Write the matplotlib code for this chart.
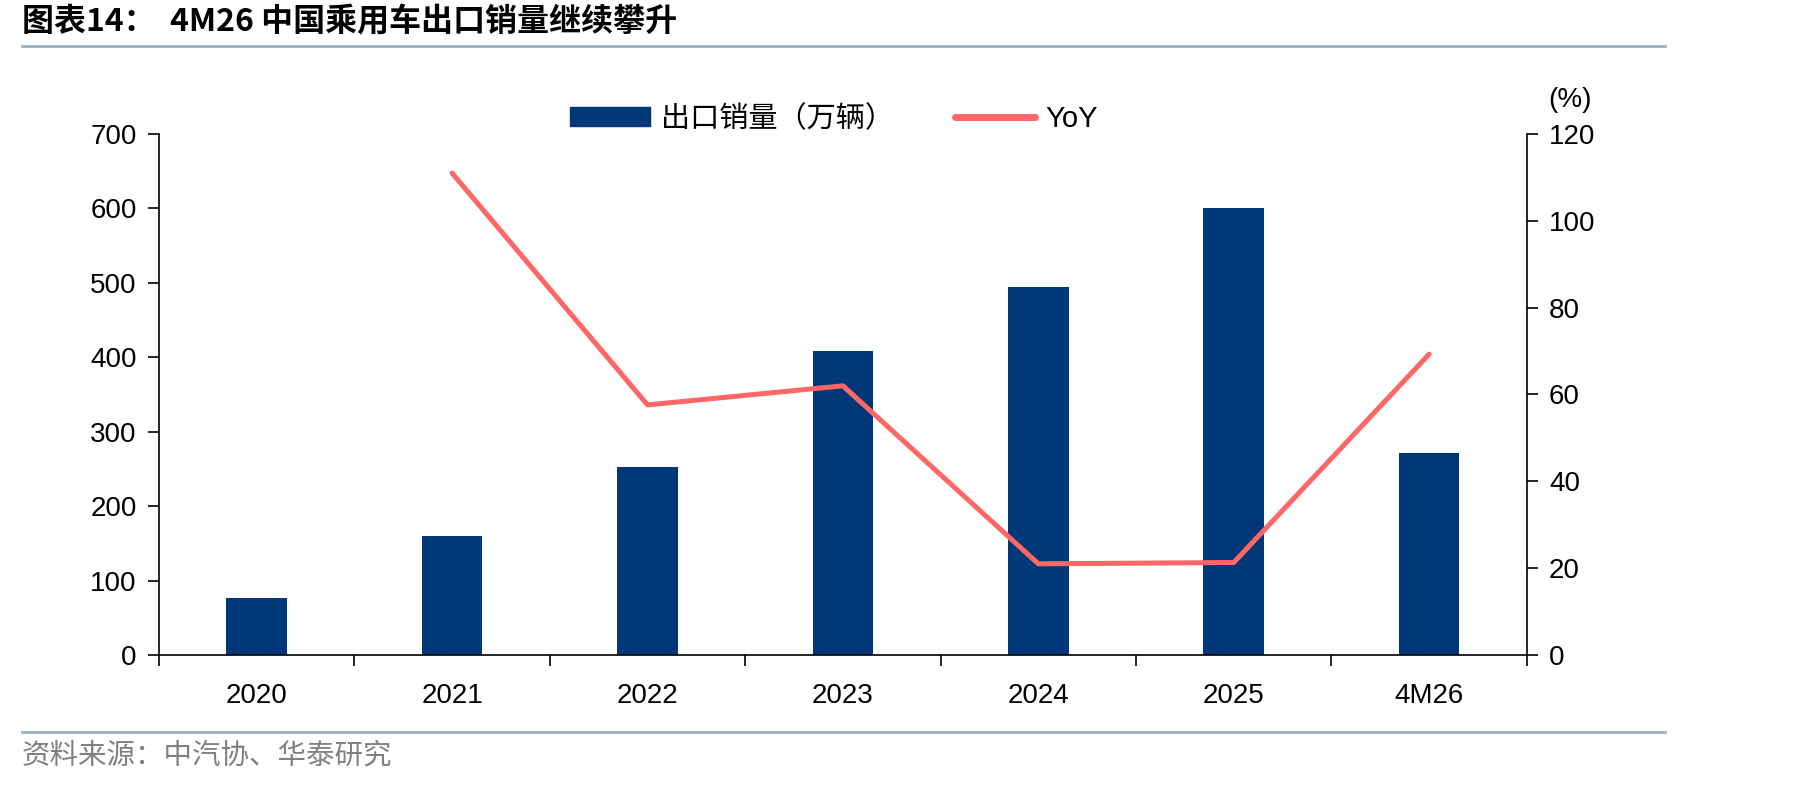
import matplotlib.pyplot as plt
from matplotlib.lines import Line2D

plt.rcParams['font.family'] = ['Liberation Sans', 'Noto Sans CJK SC', 'DejaVu Sans']

categories = ['2020', '2021', '2022', '2023', '2024', '2025', '4M26']
exports = [76, 160, 252, 409, 494, 600, 272]
yoy_cats = ['2021', '2022', '2023', '2024', '2025', '4M26']
yoy = [111, 57.6, 62, 21, 21.3, 69.3]

bar_color = '#003778'
line_color = '#FF6666'

fig = plt.figure(figsize=(18.19, 7.86), dpi=100)
ax = fig.add_axes([0.0874, 0.1667, 0.752, 0.6628])

x = list(range(len(categories)))
ax.bar(x, exports, width=0.31, color=bar_color, label='出口销量（万辆）', zorder=2)
ax.set_xlim(-0.5, len(categories) - 0.5)
ax.set_ylim(0, 700)
ax.set_yticks(range(0, 701, 100))

# ticks at category boundaries, labels at centres
ax.set_xticks([i - 0.5 for i in range(len(categories) + 1)])
ax.set_xticklabels([])
ax.set_xticks(x, minor=True)
ax.set_xticklabels(categories, minor=True)
ax.tick_params(axis='x', which='major', direction='out', length=8, width=1.2)
ax.tick_params(axis='x', which='minor', length=0, pad=20, labelsize=20)
ax.tick_params(axis='y', direction='out', length=8, width=1.2, labelsize=20, pad=8)
ax.spines['top'].set_visible(False)
ax.spines['right'].set_visible(False)
for s in ['left', 'bottom']:
    ax.spines[s].set_linewidth(1.2)

ax2 = ax.twinx()
ax2.plot([categories.index(c) for c in yoy_cats], yoy, color=line_color, lw=3.6,
         solid_capstyle='round', label='YoY', zorder=3)
ax2.set_ylim(0, 120)
ax2.set_yticks(range(0, 121, 20))
ax2.tick_params(axis='y', direction='out', length=8, width=1.2, labelsize=20, pad=8)
for s in ['top', 'left', 'bottom']:
    ax2.spines[s].set_visible(False)
ax2.spines['right'].set_linewidth(1.2)

fig.text(1570 / 1819, 1 - 100 / 786, '(%)', ha='center', va='center', fontsize=20)

# legend
handles = [plt.Rectangle((0, 0), 1, 1, color=bar_color),
           Line2D([0], [0], color=line_color, lw=5, solid_capstyle='round')]
fig.legend(handles, ['出口销量（万辆）', 'YoY'], loc='center', ncol=2,
           bbox_to_anchor=(834 / 1819, 1 - 119 / 786), frameon=False,
           fontsize=21, handlelength=2.75, handleheight=0.6, columnspacing=2.1,
           handletextpad=0.35)

# title and rules
fig.text(22 / 1819, 1 - 22 / 786, '图表14：  4M26 中国乘用车出口销量继续攀升',
         fontsize=23, fontweight='bold', va='center', ha='left',
         family=['Noto Sans CJK SC', 'DejaVu Sans'])
fig.add_artist(Line2D([22 / 1819, 1665 / 1819], [1 - 46 / 786] * 2, color='#9AB0C8', lw=2))
fig.add_artist(Line2D([22 / 1819, 1665 / 1819], [1 - 732 / 786] * 2, color='#9AB0C8', lw=2))
fig.text(22 / 1819, 1 - 756 / 786, '资料来源：中汽协、华泰研究', fontsize=20.5,
         color='#808080', va='center', ha='left', family=['Noto Sans CJK SC', 'DejaVu Sans'])

fig.savefig('out.png', dpi=100)
